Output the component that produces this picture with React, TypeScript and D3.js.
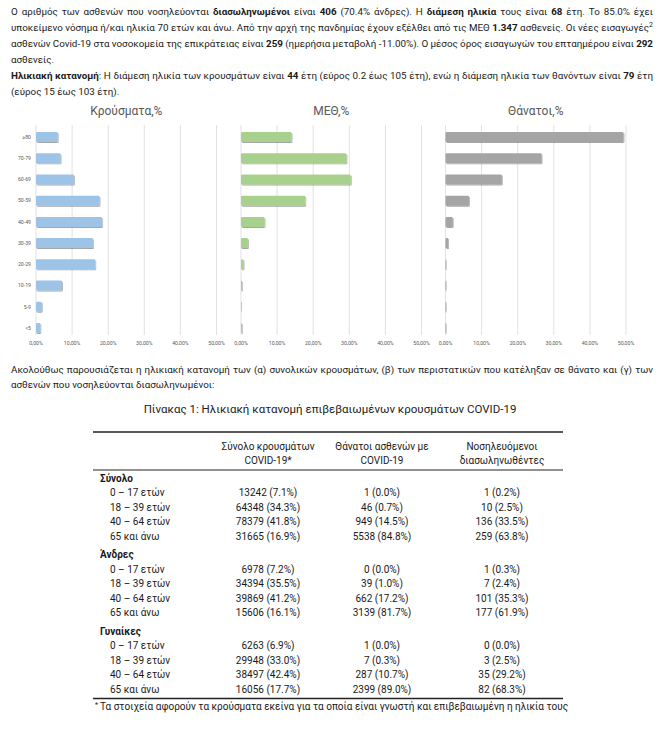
import React, { useEffect, useRef } from 'react';
import * as d3 from 'd3';

// age bands of the three small bar charts (top to bottom)
const ageGroups = ['≥80', '70-79', '60-69', '50-59', '40-49', '30-39', '20-29', '10-19', '5-9', '<5'];
const casesPct = [6.0, 6.8, 10.5, 17.6, 18.3, 15.8, 16.4, 7.2, 1.6, 1.2];
const icuPct = [14.0, 29.2, 30.4, 17.8, 6.5, 1.9, 0.7, 0.3, 0.2, 0.3];
const deathsPct = [49.3, 26.6, 15.6, 6.5, 2.0, 0.8, 0.2, 0.2, 0, 0];
const pctTicks = [0, 10, 20, 30, 40, 50];

// table
const tableGroups = ['Σύνολο', 'Άνδρες', 'Γυναίκες'];
const tableAges = ['0 – 17 ετών', '18 – 39 ετών', '40 – 64 ετών', '65 και άνω'];
const tableHeaders = [
  ['Σύνολο κρουσμάτων', 'COVID-19*'],
  ['Θάνατοι ασθενών με', 'COVID-19'],
  ['Νοσηλευόμενοι', 'διασωληνωθέντες'],
];
const casesCol = [
  ['13242 (7.1%)', '64348 (34.3%)', '78379 (41.8%)', '31665 (16.9%)'],
  ['6978 (7.2%)', '34394 (35.5%)', '39869 (41.2%)', '15606 (16.1%)'],
  ['6263 (6.9%)', '29948 (33.0%)', '38497 (42.4%)', '16056 (17.7%)'],
];
const deathsCol = [
  ['1 (0.0%)', '46 (0.7%)', '949 (14.5%)', '5538 (84.8%)'],
  ['0 (0.0%)', '39 (1.0%)', '662 (17.2%)', '3139 (81.7%)'],
  ['1 (0.0%)', '7 (0.3%)', '287 (10.7%)', '2399 (89.0%)'],
];
const intubatedCol = [
  ['1 (0.2%)', '10 (2.5%)', '136 (33.5%)', '259 (63.8%)'],
  ['1 (0.3%)', '7 (2.4%)', '101 (35.3%)', '177 (61.9%)'],
  ['0 (0.0%)', '3 (2.5%)', '35 (29.2%)', '82 (68.3%)'],
];

const FONT = 'Roboto, "Noto Sans", sans-serif';
const TEXT_L = 11;
const TEXT_R = 653;

const panels = [
  { title: 'Κρούσματα,%', values: casesPct, color: '#9dc3e6', x0: 36 },
  { title: 'ΜΕΘ,%', values: icuPct, color: '#a9d18e', x0: 241 },
  { title: 'Θάνατοι,%', values: deathsPct, color: '#a5a5a5', x0: 445.5 },
];

const y = d3.scalePoint<string>().domain(ageGroups).range([137, 328]);
const fmtTick = (d: number) => d.toFixed(2).replace('.', ',') + '%';

const B: React.FC<{ children: React.ReactNode }> = ({ children }) => (
  <tspan fontWeight="bold">{children}</tspan>
);

const Panel: React.FC<{ p: typeof panels[number] }> = ({ p }) => {
  const x = d3.scaleLinear().domain([0, 50]).range([p.x0, p.x0 + 180.5]);
  return (
    <g>
      <text x={(x(0) + x(50)) / 2} y={115} textAnchor="middle" fontSize={12} fill="#595959" fontFamily={FONT}>
        {p.title}
      </text>
      {pctTicks.map(t => (
        <g key={t}>
          <line x1={x(t)} x2={x(t)} y1={125} y2={335} stroke="#d9d9d9" strokeWidth={0.8} />
          <text x={x(t)} y={345} textAnchor="middle" fontSize={5.2} fill="#595959" fontFamily={FONT}>
            {fmtTick(t)}
          </text>
        </g>
      ))}
      {p.x0 < 100 &&
        ageGroups.map(a => (
          <text key={a} x={31} y={y(a)! + 1.8} textAnchor="end" fontSize={5.2} fill="#595959" fontFamily={FONT}>
            {a}
          </text>
        ))}
      {ageGroups.map((a, i) => (
        <rect
          key={a}
          x={x(0)}
          y={y(a)! - 5}
          width={Math.max(0.8, x(p.values[i]) - x(0))}
          height={10}
          rx={1.2}
          fill={p.color}
          filter="url(#shadow)"
        />
      ))}
    </g>
  );
};

export default function App() {
  const svgRef = useRef<SVGSVGElement>(null);

  // stretch (or squeeze) word spacing so the full lines are justified
  useEffect(() => {
    if (!svgRef.current) return;
    d3.select(svgRef.current)
      .selectAll<SVGTextElement, unknown>('text.justify')
      .each(function () {
        this.style.wordSpacing = '0px';
        const w = this.getComputedTextLength();
        const target = TEXT_R - TEXT_L;
        const spaces = (this.textContent || '').split(' ').length - 1;
        if (spaces > 0) this.style.wordSpacing = `${(target - w) / spaces}px`;
      });
  }, []);

  const groupY = (g: number) => 478 + g * 76.5;
  const colX = [268, 382, 502];
  const cols = [casesCol, deathsCol, intubatedCol];

  const pText = { fontSize: 9.8, fill: '#1a1a1a', fontFamily: FONT, x: TEXT_L };

  return (
    <svg
      ref={svgRef}
      width={664}
      height={756}
      style={{ position: 'absolute', left: 0, top: 0, background: '#fff' }}
    >
      <defs>
        <filter id="shadow" x="-10%" y="-30%" width="130%" height="180%">
          <feDropShadow dx={0.8} dy={1} stdDeviation={0.7} floodColor="#000" floodOpacity={0.35} />
        </filter>
      </defs>

      <text className="justify" {...pText} y={14.5}>
        Ο αριθμός των ασθενών που νοσηλεύονται <B>διασωληνωμένοι</B> είναι <B>406</B> (70.4% άνδρες). Η{' '}
        <B>διάμεση ηλικία</B> τους είναι <B>68</B> έτη. Το 85.0% έχει
      </text>
      <text className="justify" {...pText} y={30.5}>
        υποκείμενο νόσημα ή/και ηλικία 70 ετών και άνω. Από την αρχή της πανδημίας έχουν εξέλθει από τις ΜΕΘ{' '}
        <B>1.347</B> ασθενείς. Οι νέες εισαγωγές
        <tspan fontSize={7} dy={-4}>2</tspan>
      </text>
      <text className="justify" {...pText} y={46.5}>
        ασθενών Covid-19 στα νοσοκομεία της επικράτειας είναι <B>259</B> (ημερήσια μεταβολή -11.00%). Ο μέσος όρος
        εισαγωγών του επταημέρου είναι <B>292</B>
      </text>
      <text {...pText} y={62.5}>ασθενείς.</text>
      <text className="justify" {...pText} y={78.5}>
        <B>Ηλικιακή κατανομή</B>: Η διάμεση ηλικία των κρουσμάτων είναι <B>44</B> έτη (εύρος 0.2 έως 105 έτη), ενώ η
        διάμεση ηλικία των θανόντων είναι <B>79</B> έτη
      </text>
      <text {...pText} y={94.5}>(εύρος 15 έως 103 έτη).</text>

      {panels.map(p => (
        <Panel key={p.title} p={p} />
      ))}

      <text className="justify" {...pText} y={372.5}>
        Ακολούθως παρουσιάζεται η ηλικιακή κατανομή των (α) συνολικών κρουσμάτων, (β) των περιστατικών που κατέληξαν
        σε θάνατο και (γ) των
      </text>
      <text {...pText} y={387.5}>ασθενών που νοσηλεύονται διασωληνωμένοι:</text>

      <text x={330} y={413} textAnchor="middle" fontSize={11.5} fill="#222" fontFamily={FONT}>
        Πίνακας 1: Ηλικιακή κατανομή επιβεβαιωμένων κρουσμάτων COVID-19
      </text>

      <line x1={93} x2={563} y1={432} y2={432} stroke="#222" strokeWidth={1.4} />
      <line x1={93} x2={563} y1={470} y2={470} stroke="#222" strokeWidth={1} />
      <line x1={93} x2={563} y1={698.5} y2={698.5} stroke="#222" strokeWidth={1.4} />

      {tableHeaders.map((h, c) =>
        h.map((line, k) => (
          <text
            key={c + '-' + k}
            x={colX[c]}
            y={446 + k * 14.5}
            dy="0.35em"
            textAnchor="middle"
            fontSize={10}
            fill="#1a1a1a"
            fontFamily={FONT}
          >
            {line}
          </text>
        ))
      )}

      {tableGroups.map((g, gi) => (
        <g key={g}>
          <text x={100} y={groupY(gi)} dy="0.35em" fontSize={10} fontWeight="bold" fill="#1a1a1a" fontFamily={FONT}>
            {g}
          </text>
          {tableAges.map((a, r) => {
            const ry = groupY(gi) + 14.6 * (r + 1);
            return (
              <g key={a}>
                <text x={110} y={ry} dy="0.35em" fontSize={10} fill="#1a1a1a" fontFamily={FONT}>
                  {a}
                </text>
                {cols.map((col, c) => (
                  <text
                    key={c}
                    x={colX[c]}
                    y={ry}
                    dy="0.35em"
                    textAnchor="middle"
                    fontSize={10}
                    fill="#1a1a1a"
                    fontFamily={FONT}
                  >
                    {col[gi][r]}
                  </text>
                ))}
              </g>
            );
          })}
        </g>
      ))}

      <text x={95} y={710} fontSize={10} fill="#1a1a1a" fontFamily={FONT}>
        <tspan fontSize={7} dy={-3.5}>*</tspan>
        <tspan dy={3.5} dx={2}>
          Τα στοιχεία αφορούν τα κρούσματα εκείνα για τα οποία είναι γνωστή και επιβεβαιωμένη η ηλικία τους
        </tspan>
      </text>
    </svg>
  );
}
